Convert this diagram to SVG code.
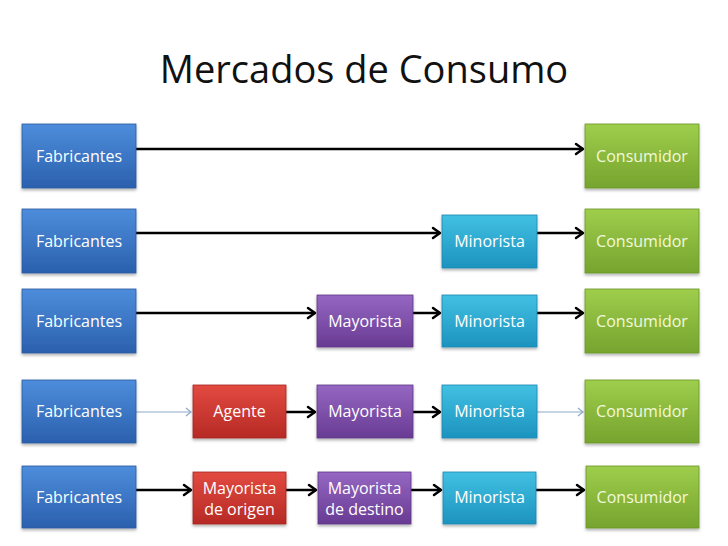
<svg xmlns="http://www.w3.org/2000/svg" width="728" height="546" viewBox="0 0 728 546">
<defs>
<linearGradient id="gBlue" x1="0" y1="0" x2="0" y2="1"><stop offset="0" stop-color="#4d8ddb"/><stop offset="1" stop-color="#2b60ae"/></linearGradient>
<linearGradient id="gGreen" x1="0" y1="0" x2="0" y2="1"><stop offset="0" stop-color="#9fcd4c"/><stop offset="1" stop-color="#76a42e"/></linearGradient>
<linearGradient id="gCyan" x1="0" y1="0" x2="0" y2="1"><stop offset="0" stop-color="#42c0e2"/><stop offset="1" stop-color="#1c93bf"/></linearGradient>
<linearGradient id="gPurple" x1="0" y1="0" x2="0" y2="1"><stop offset="0" stop-color="#9567c2"/><stop offset="1" stop-color="#683b93"/></linearGradient>
<linearGradient id="gRed" x1="0" y1="0" x2="0" y2="1"><stop offset="0" stop-color="#e24a40"/><stop offset="1" stop-color="#b62a25"/></linearGradient>
<filter id="sh" x="-10%" y="-10%" width="120%" height="130%"><feDropShadow dx="0" dy="2" stdDeviation="1.5" flood-color="#000" flood-opacity="0.3"/></filter>
<marker id="ah" markerUnits="userSpaceOnUse" markerWidth="14" markerHeight="14" refX="10" refY="6" orient="auto" overflow="visible"><path d="M3,1 L10,6 L3,11" fill="none" stroke="#000" stroke-width="2.5" stroke-linecap="round" stroke-linejoin="round"/></marker>
<marker id="ahThin" markerUnits="userSpaceOnUse" markerWidth="12" markerHeight="12" refX="8" refY="5" orient="auto" overflow="visible"><path d="M3,1 L8,5 L3,9" fill="none" stroke="#8ea8c8" stroke-width="1.2"/></marker>
<style>
.box{filter:url(#sh);stroke-width:0.8}
.fab{fill:url(#gBlue);stroke:#2a5a9e}
.con{fill:url(#gGreen);stroke:#6a962a}
.min{fill:url(#gCyan);stroke:#1a87b0}
.may{fill:url(#gPurple);stroke:#5e3586}
.red{fill:url(#gRed);stroke:#a52420}
.lbl{font-family:"Open Sans","Noto Sans",sans-serif;font-size:16px;fill:#ffffff;text-anchor:middle}
.lblc{fill:#f3f8dc}
.title{font-family:"Open Sans","Noto Sans",sans-serif;font-size:38px;fill:#111;text-anchor:middle}
.arr{stroke:#000;stroke-width:2.5;fill:none;marker-end:url(#ah)}
.thin{stroke:#8ea8c8;stroke-width:1.2;fill:none;marker-end:url(#ahThin)}
</style>
</defs>
<rect width="728" height="546" fill="#ffffff"/>
<text class="title" x="364" y="83">Mercados de Consumo</text>

<g id="connectors">
<line class="arr" x1="136" y1="149" x2="583" y2="149"/>
<line class="arr" x1="136" y1="233" x2="440" y2="233"/>
<line class="arr" x1="537" y1="233" x2="583" y2="233"/>
<line class="arr" x1="136" y1="313" x2="315" y2="313"/>
<line class="arr" x1="413" y1="313" x2="440" y2="313"/>
<line class="arr" x1="537" y1="313" x2="583" y2="313"/>
<line class="thin" x1="136" y1="412" x2="191" y2="412"/>
<line class="arr" x1="286" y1="412" x2="315" y2="412"/>
<line class="arr" x1="413" y1="412" x2="440" y2="412"/>
<line class="thin" x1="537" y1="412" x2="583" y2="412"/>
<line class="arr" x1="136" y1="490" x2="191" y2="490"/>
<line class="arr" x1="286" y1="490" x2="316" y2="490"/>
<line class="arr" x1="411" y1="490" x2="441" y2="490"/>
<line class="arr" x1="536" y1="490" x2="584" y2="490"/>
</g>

<g id="fab1"><rect class="box fab" x="22" y="124" width="114" height="64"/><text class="lbl" x="79" y="162">Fabricantes</text></g>
<g id="con1"><rect class="box con" x="585" y="124" width="114" height="64"/><text class="lbl lblc" x="642" y="162">Consumidor</text></g>

<g id="fab2"><rect class="box fab" x="22" y="209" width="114" height="64"/><text class="lbl" x="79" y="247">Fabricantes</text></g>
<g id="min2"><rect class="box min" x="442" y="215" width="95" height="53"/><text class="lbl" x="489.5" y="247">Minorista</text></g>
<g id="con2"><rect class="box con" x="585" y="209" width="114" height="64"/><text class="lbl lblc" x="642" y="247">Consumidor</text></g>

<g id="fab3"><rect class="box fab" x="22" y="289" width="114" height="64"/><text class="lbl" x="79" y="327">Fabricantes</text></g>
<g id="may3"><rect class="box may" x="317" y="295" width="96" height="52"/><text class="lbl" x="365" y="327">Mayorista</text></g>
<g id="min3"><rect class="box min" x="442" y="295" width="95" height="52"/><text class="lbl" x="489.5" y="327">Minorista</text></g>
<g id="con3"><rect class="box con" x="585" y="289" width="114" height="64"/><text class="lbl lblc" x="642" y="327">Consumidor</text></g>

<g id="fab4"><rect class="box fab" x="22" y="380" width="114" height="63"/><text class="lbl" x="79" y="417">Fabricantes</text></g>
<g id="age4"><rect class="box red" x="193" y="385" width="93" height="53"/><text class="lbl" x="239.5" y="417">Agente</text></g>
<g id="may4"><rect class="box may" x="317" y="385" width="96" height="53"/><text class="lbl" x="365" y="417">Mayorista</text></g>
<g id="min4"><rect class="box min" x="442" y="385" width="95" height="53"/><text class="lbl" x="489.5" y="417">Minorista</text></g>
<g id="con4"><rect class="box con" x="585" y="380" width="114" height="63"/><text class="lbl lblc" x="642" y="417">Consumidor</text></g>

<g id="fab5"><rect class="box fab" x="22" y="466" width="114" height="62"/><text class="lbl" x="79" y="503">Fabricantes</text></g>
<g id="mdo5"><rect class="box red" x="193" y="472" width="93" height="52"/><text class="lbl" x="239.5" y="494">Mayorista</text><text class="lbl" x="239.5" y="515">de origen</text></g>
<g id="mdd5"><rect class="box may" x="318" y="472" width="93" height="52"/><text class="lbl" x="364.5" y="494">Mayorista</text><text class="lbl" x="364.5" y="515">de destino</text></g>
<g id="min5"><rect class="box min" x="443" y="472" width="93" height="52"/><text class="lbl" x="489.5" y="503">Minorista</text></g>
<g id="con5"><rect class="box con" x="586" y="466" width="113" height="62"/><text class="lbl lblc" x="642.5" y="503">Consumidor</text></g>
</svg>
